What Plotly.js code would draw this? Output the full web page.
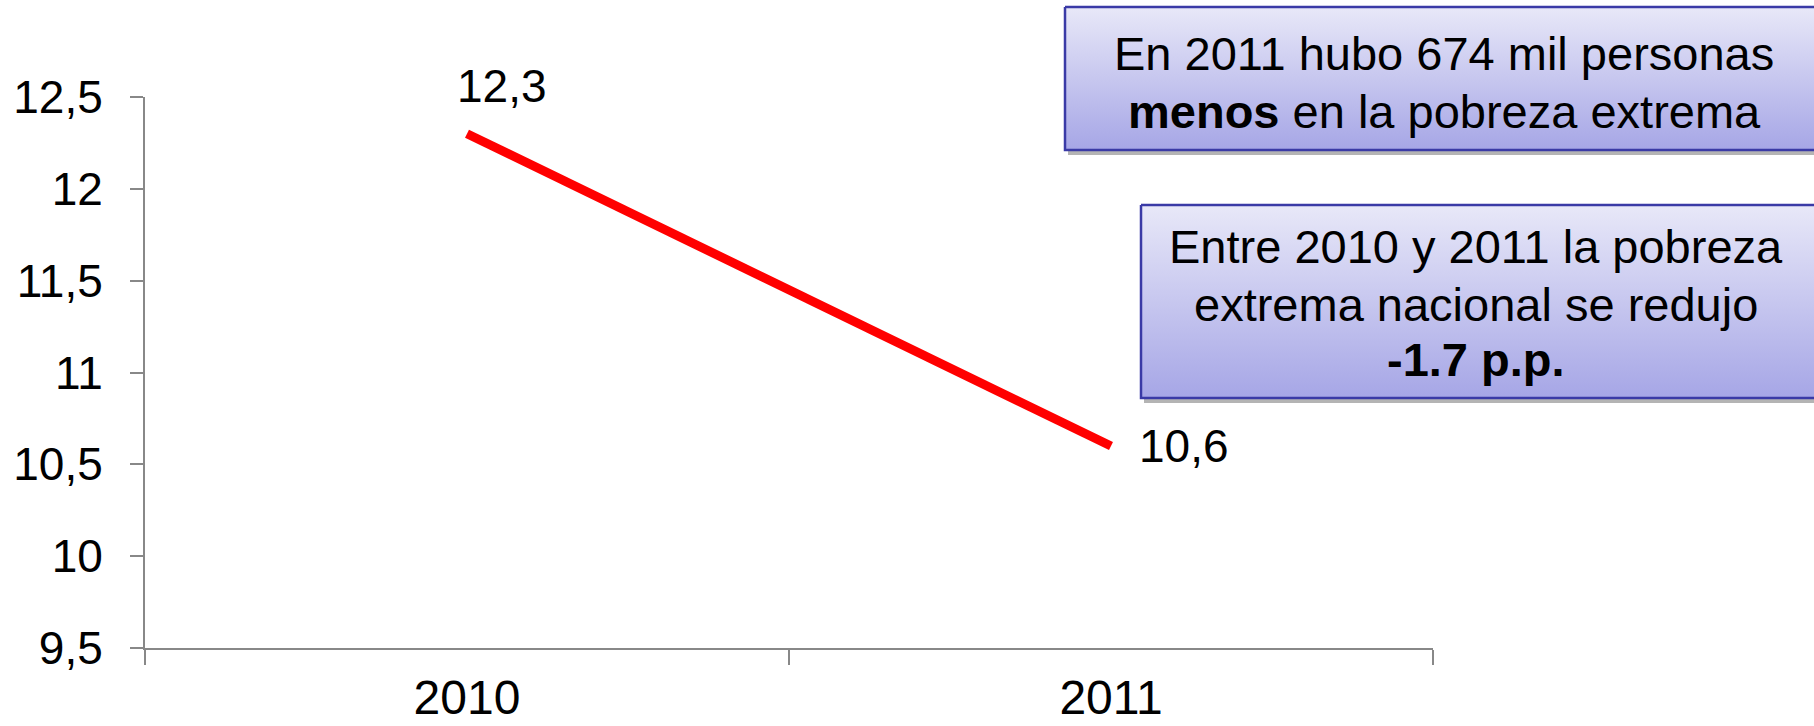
<!DOCTYPE html>
<html>
<head>
<meta charset="utf-8">
<script src="https://cdn.plot.ly/plotly-3.0.1.min.js"></script>
<style>html,body{margin:0;padding:0;background:#fff;}#chart{width:1814px;height:726px;}</style>
</head>
<body>
<div id="chart"></div>
<script>
// ---- data ----
var years = ['2010', '2011'];
var pobrezaExtrema = [12.3, 10.6];
var valueLabels = ['12,3', '10,6'];
var yTickValues = [9.5, 10, 10.5, 11, 11.5, 12, 12.5];
var box1Lines = ['En 2011 hubo 674 mil personas', '<b>menos</b> en la pobreza extrema'];
var box2Lines = ['Entre 2010 y 2011 la pobreza', 'extrema nacional se redujo', '<b>-1.7 p.p.</b>'];

// ---- layout helpers (pixel frame for the text boxes) ----
var W = 1814, H = 726;
var mL = 145, mT = 0, mB = 78, mR = 0;
var plotRight = 1433, plotTop = 97, plotBottom = 648;
var FONT = '"Liberation Sans", Arial, sans-serif';

function boxTrace(x0, x1, y0, y1, isShadow) {
  var t = {
    x: [x0, x1, x1, x0, x0], y: [y0, y0, y1, y1, y0],
    xaxis: 'x2', yaxis: 'y2', type: 'scatter', mode: 'lines', fill: 'toself',
    hoverinfo: 'skip', showlegend: false
  };
  if (isShadow) {
    t.fillcolor = '#b4b4b4';
    t.line = {width: 0, color: 'rgba(0,0,0,0)'};
  } else {
    t.fillcolor = '#c4c4ef';
    t.fillgradient = {type: 'vertical', start: y0, stop: y1,
      colorscale: [[0, '#e8e8f8'], [1, '#a6a6e6']]};
    t.line = {width: 2.5, color: '#3a3aa6'};
  }
  return t;
}

var traces = [
  {
    x: years, y: pobrezaExtrema, type: 'scatter', mode: 'lines', xaxis: 'x', yaxis: 'y',
    line: {color: '#ff0000', width: 9}, hoverinfo: 'skip', showlegend: false
  },
  boxTrace(1068, 1830, 10, 155, true),
  boxTrace(1065, 1830, 7, 150, false),
  boxTrace(1144, 1830, 208, 403, true),
  boxTrace(1141, 1830, 205, 398, false)
];

var annotations = [];
// value labels tied to data points
annotations.push({x: 0, y: pobrezaExtrema[0], xref: 'x', yref: 'y', text: valueLabels[0],
  showarrow: false, xanchor: 'center', yanchor: 'middle', xshift: 35, yshift: 48,
  font: {family: FONT, size: 46, color: '#000'}});
annotations.push({x: 1, y: pobrezaExtrema[1], xref: 'x', yref: 'y', text: valueLabels[1],
  showarrow: false, xanchor: 'center', yanchor: 'middle', xshift: 73, yshift: 0,
  font: {family: FONT, size: 46, color: '#000'}});

var b1y = [53, 111];
box1Lines.forEach(function (t, i) {
  annotations.push({x: 1444, y: b1y[i], xref: 'x2', yref: 'y2', text: t, showarrow: false,
    xanchor: 'center', yanchor: 'middle', font: {family: FONT, size: 47, color: '#000'}});
});
var b2y = [246, 304, 359];
box2Lines.forEach(function (t, i) {
  annotations.push({x: 1476, y: b2y[i], xref: 'x2', yref: 'y2', text: t, showarrow: false,
    xanchor: 'center', yanchor: 'middle', font: {family: FONT, size: 47, color: '#000'}});
});

var paperW = W - mL - mR, paperH = H - mT - mB;
var layout = {
  width: W, height: H,
  margin: {l: mL, r: mR, t: mT, b: mB, pad: 0},
  paper_bgcolor: '#fff', plot_bgcolor: 'rgba(0,0,0,0)',
  separators: ',.',
  showlegend: false,
  font: {family: FONT, color: '#000'},
  xaxis: {
    type: 'category', categoryorder: 'array', categoryarray: years,
    range: [-0.5, 1.5], autorange: false,
    domain: [0, (plotRight - mL) / paperW], anchor: 'y',
    tickson: 'boundaries', ticks: 'outside', ticklen: 15, tickwidth: 2, tickcolor: '#888',
    tickangle: 0,
    showline: true, linecolor: '#888', linewidth: 2, showgrid: false, zeroline: false,
    tickfont: {family: FONT, size: 48, color: '#000'}, ticklabelstandoff: 6,
    fixedrange: true
  },
  yaxis: {
    range: [9.5, 12.5], autorange: false, domain: [0, (plotBottom - plotTop) / paperH], anchor: 'x',
    tickvals: yTickValues, ticks: 'outside', ticklen: 13, tickwidth: 2, tickcolor: '#888',
    showline: true, linecolor: '#888', linewidth: 2, showgrid: false, zeroline: false,
    tickfont: {family: FONT, size: 46, color: '#000'}, ticklabelstandoff: 18,
    fixedrange: true
  },
  xaxis2: {domain: [0, 1], range: [mL, W], autorange: false, anchor: 'y2', visible: false, fixedrange: true},
  yaxis2: {domain: [0, 1], range: [plotBottom, 0], autorange: false, anchor: 'x2', visible: false, fixedrange: true},
  annotations: annotations
};

Plotly.newPlot('chart', traces, layout, {displayModeBar: false, staticPlot: true});
</script>
</body>
</html>
